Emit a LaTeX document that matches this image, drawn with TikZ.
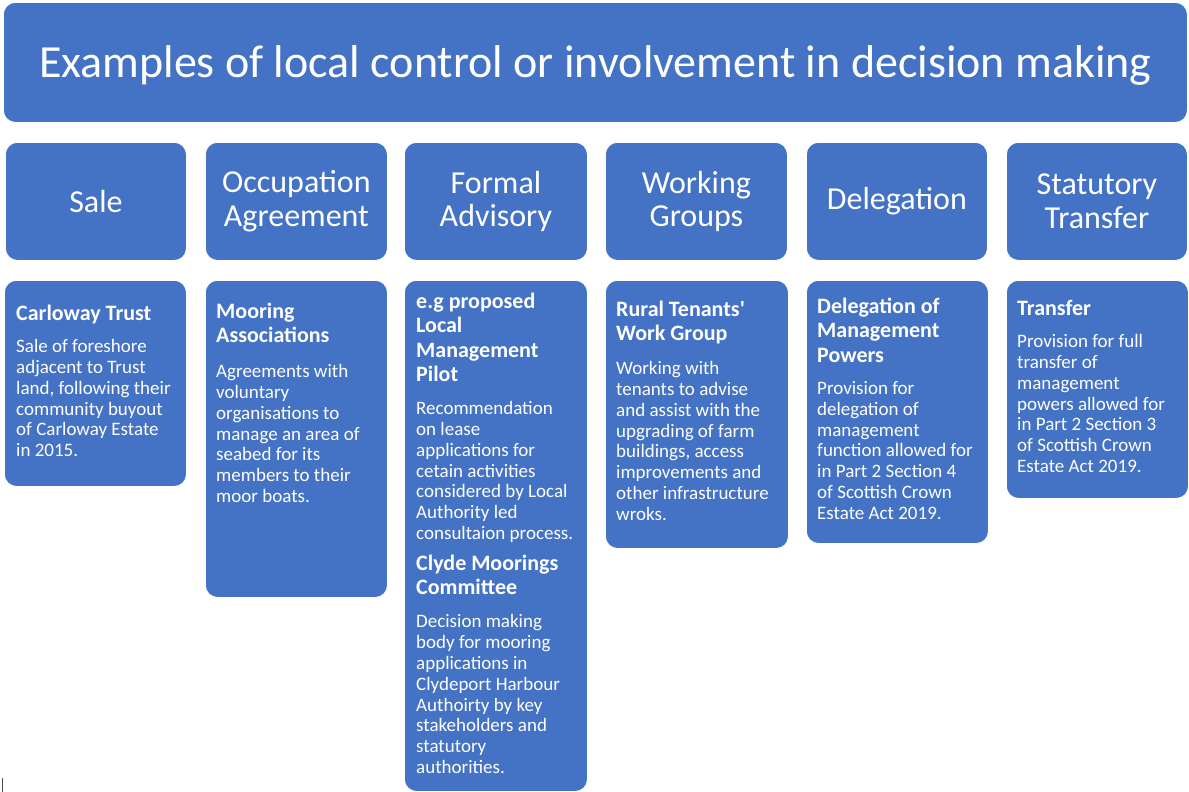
\documentclass[tikz,border=0pt]{standalone}
\usepackage{fontspec}
\setmainfont{Carlito}[Ligatures=TeXOff]
\definecolor{boxblue}{HTML}{4472C4}
\begin{document}
\begin{tikzpicture}[x=1pt,y=-1pt,
  bbox/.style={fill=boxblue, draw=white, line width=0.8pt, rounded corners=12pt, anchor=north west, inner sep=0pt},
  hdr/.style={text=white, align=center, font=\fontsize{32}{33.5}\selectfont},
  ttl/.style={text=white, anchor=north west, inner sep=0pt, align=left, font=\bfseries\fontsize{22}{24.3}\selectfont},
  bdy/.style={text=white, anchor=north west, inner sep=0pt, align=left, font=\fontsize{19}{20.9}\selectfont}]
\useasboundingbox (0,0) rectangle (1189,792);
% title
\node[bbox, minimum width=1184pt, minimum height=120pt] (title) at (3,2) {};
\node[text=white, font=\fontsize{46}{52}\selectfont] (titletext) at ([yshift=-3pt]title.center) {Examples of local control or involvement in decision making};
% header boxes
\node[bbox, minimum width=181pt, minimum height=118pt] (h1) at (5,142) {};
\node[bbox, minimum width=182pt, minimum height=118pt] (h2) at (205,142) {};
\node[bbox, minimum width=183pt, minimum height=118pt] (h3) at (404,142) {};
\node[bbox, minimum width=182pt, minimum height=118pt] (h4) at (605,142) {};
\node[bbox, minimum width=181pt, minimum height=118pt] (h5) at (806,142) {};
\node[bbox, minimum width=181pt, minimum height=118pt] (h6) at (1006,142) {};
\node[hdr] (h1t) at (h1.center) {Sale};
\node[hdr] (h2t) at (h2.center) {Occupation\\Agreement};
\node[hdr] (h3t) at (h3.center) {Formal\\Advisory};
\node[hdr] (h4t) at (h4.center) {Working\\Groups};
\node[hdr] (h5t) at (h5.center) {Delegation};
\node[hdr] (h6t) at (h6.center) {Statutory\\Transfer};
% lower boxes
\node[bbox, minimum width=182pt, minimum height=206pt] (b1) at (4,280) {};
\node[bbox, minimum width=182pt, minimum height=317pt] (b2) at (205,280) {};
\node[bbox, minimum width=183pt, minimum height=511pt] (b3) at (404,280) {};
\node[bbox, minimum width=183pt, minimum height=268pt] (b4) at (605,280) {};
\node[bbox, minimum width=182pt, minimum height=263pt] (b5) at (806,280) {};
\node[bbox, minimum width=182pt, minimum height=218pt] (b6) at (1006,280) {};
% texts
\node[ttl] (t1) at (16,305) {Carloway Trust};
\node[bdy] (d1) at (16,339) {Sale of foreshore\\adjacent to Trust\\land, following their\\community buyout\\of Carloway Estate\\in 2015.};
\node[ttl] (t2) at (216,303) {Mooring\\Associations};
\node[bdy] (d2) at (216,364) {Agreements with\\voluntary\\organisations to\\manage an area of\\seabed for its\\members to their\\moor boats.};
\node[ttl] (t3) at (416,293) {e.g proposed\\Local\\Management\\Pilot};
\node[bdy] (d3) at (416,401) {Recommendation\\on lease\\applications for\\cetain activities\\considered by Local\\Authority led\\consultaion process.};
\node[ttl] (t3b) at (416,555) {Clyde Moorings\\Committee};
\node[bdy] (d3b) at (416,614) {Decision making\\body for mooring\\applications in\\Clydeport Harbour\\Authoirty by key\\stakeholders and\\statutory\\authorities.};
\node[ttl] (t4) at (616,301) {Rural Tenants'\\Work Group};
\node[bdy] (d4) at (616,361) {Working with\\tenants to advise\\and assist with the\\upgrading of farm\\buildings, access\\improvements and\\other infrastructure\\wroks.};
\node[ttl] (t5) at (817,298) {Delegation of\\Management\\Powers};
\node[bdy] (d5) at (817,381) {Provision for\\delegation of\\management\\function allowed for\\in Part 2 Section 4\\of Scottish Crown\\Estate Act 2019.};
\node[ttl] (t6) at (1017,300) {Transfer};
\node[bdy] (d6) at (1017,334) {Provision for full\\transfer of\\management\\powers allowed for\\in Part 2 Section 3\\of Scottish Crown\\Estate Act 2019.};
% cursor mark
\coordinate (m1) at (2.5,778);
\coordinate (m2) at (2.5,792);
\draw[black!70, line width=0.8pt] (m1) -- (m2);
\end{tikzpicture}
\end{document}
